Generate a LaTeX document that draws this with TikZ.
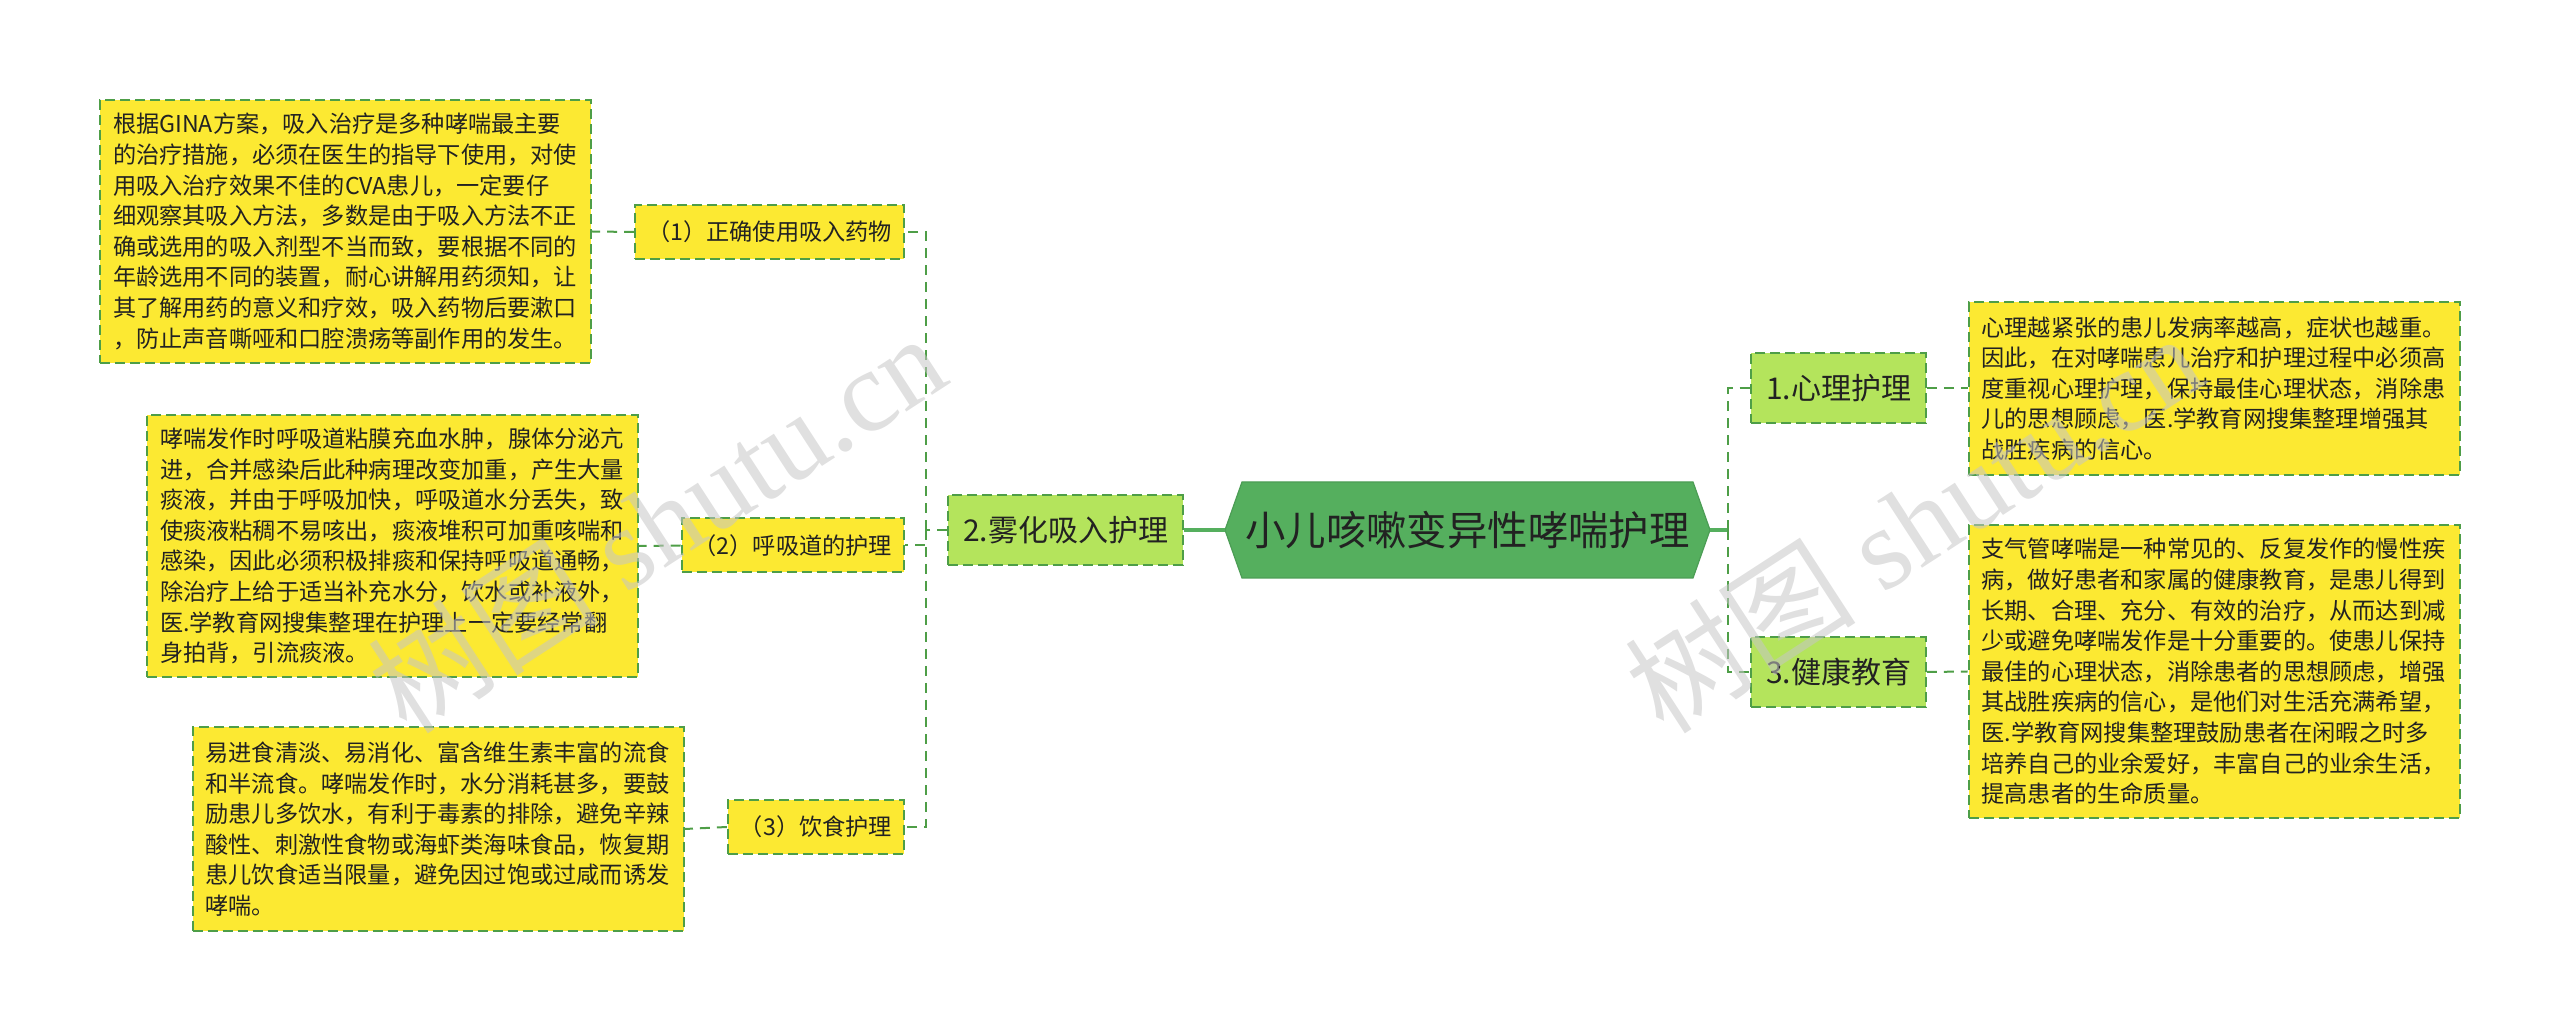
\documentclass[tikz,border=0pt]{standalone}
\usepackage{fontspec}
\newfontfamily\cjk{Noto Sans CJK SC}
\newfontfamily\wmfont{Liberation Serif}
\definecolor{leafyellow}{HTML}{FCE932}
\definecolor{topicgreen}{HTML}{B4E45C}
\definecolor{rootgreen}{HTML}{55AF5E}
\definecolor{edgegreen}{HTML}{4E9E47}
\definecolor{inkdark}{HTML}{222222}
\begin{document}
\begin{tikzpicture}[x=0.5pt,y=-0.5pt,
  every node/.style={font=\cjk,text=inkdark},
  root/.style={minimum width=225pt,minimum height=48pt,inner sep=0pt,
    font=\cjk\fontsize{20.2pt}{24pt}\selectfont},
  topic/.style={fill=topicgreen,draw=edgegreen,line width=1pt,dash pattern=on 5pt off 2.5pt,
    minimum height=35pt,inner xsep=7.4pt,inner ysep=0pt,
    font=\cjk\fontsize{15pt}{18pt}\selectfont},
  tag/.style={fill=leafyellow,draw=edgegreen,line width=1pt,dash pattern=on 5pt off 2.5pt,
    minimum height=27pt,inner xsep=6pt,inner ysep=0pt,
    font=\cjk\fontsize{11.6pt}{14pt}\selectfont},
  leaf/.style={fill=leafyellow,draw=edgegreen,line width=1pt,dash pattern=on 5pt off 2.5pt,
    text width=232.5pt,align=left,inner xsep=6.5pt,inner ysep=0pt,
    font=\cjk\fontsize{11.6pt}{15.3pt}\selectfont},
  link/.style={draw=edgegreen,line width=1pt,dash pattern=on 5pt off 3.5pt},
  trunk/.style={draw=rootgreen,line width=1.6pt},
  wmark/.style={rotate=33,text=gray!45,opacity=0.55,font=\wmfont\fontsize{58pt}{58pt}\selectfont}]
  \useasboundingbox (0,0) rectangle (2560,1031);
  % Centre: hexagon with pointed ends
  \coordinate (rootL) at (1225,530);
  \coordinate (rootR) at (1710,530);
  \filldraw[fill=rootgreen,draw=rootgreen!90!black,line width=0.6pt]
    (rootL) -- (1242,482) -- (1693,482) -- (rootR) -- (1693,578) -- (1242,578) -- cycle;
  \node[root] (root) at (1467.5,530) {小儿咳嗽变异性哮喘护理};
  % First level
  \node[topic] (p2) at (1065.5,530) {2.雾化吸入护理};
  \node[topic] (p1) at (1838.5,388.5) {1.心理护理};
  \node[topic] (p3) at (1838.5,672) {3.健康教育};
  % Left branch
  \node[tag,anchor=east] (c1) at (905,232) {（1）正确使用吸入药物};
  \node[tag,anchor=east] (c2) at (905,545.5) {（2）呼吸道的护理};
  \node[tag,anchor=east] (c3) at (905,827) {（3）饮食护理};
  \node[leaf,minimum height=131.5pt] (d1) at (345.5,231.5) {根据GINA方案，吸入治疗是多种哮喘最主要\\的治疗措施，必须在医生的指导下使用，对使\\用吸入治疗效果不佳的CVA患儿，一定要仔\\细观察其吸入方法，多数是由于吸入方法不正\\确或选用的吸入剂型不当而致，要根据不同的\\年龄选用不同的装置，耐心讲解用药须知，让\\其了解用药的意义和疗效，吸入药物后要漱口\\，防止声音嘶哑和口腔溃疡等副作用的发生。};
  \node[leaf,minimum height=131pt] (d2) at (392.5,546) {哮喘发作时呼吸道粘膜充血水肿，腺体分泌亢\\进，合并感染后此种病理改变加重，产生大量\\痰液，并由于呼吸加快，呼吸道水分丢失，致\\使痰液粘稠不易咳出，痰液堆积可加重咳喘和\\感染，因此必须积极排痰和保持呼吸道通畅，\\除治疗上给于适当补充水分，饮水或补液外，\\医.学教育网搜集整理在护理上一定要经常翻\\身拍背，引流痰液。};
  \node[leaf,minimum height=102pt] (d3) at (438,829) {易进食清淡、易消化、富含维生素丰富的流食\\和半流食。哮喘发作时，水分消耗甚多，要鼓\\励患儿多饮水，有利于毒素的排除，避免辛辣\\酸性、刺激性食物或海虾类海味食品，恢复期\\患儿饮食适当限量，避免因过饱或过咸而诱发\\哮喘。};
  % Right branch
  \node[leaf,minimum height=86.5pt] (d4) at (2214,388.5) {心理越紧张的患儿发病率越高，症状也越重。\\因此，在对哮喘患儿治疗和护理过程中必须高\\度重视心理护理，保持最佳心理状态，消除患\\儿的思想顾虑，医.学教育网搜集整理增强其\\战胜疾病的信心。};
  \node[leaf,minimum height=146.5pt] (d5) at (2214,671.5) {支气管哮喘是一种常见的、反复发作的慢性疾\\病，做好患者和家属的健康教育，是患儿得到\\长期、合理、充分、有效的治疗，从而达到减\\少或避免哮喘发作是十分重要的。使患儿保持\\最佳的心理状态，消除患者的思想顾虑，增强\\其战胜疾病的信心，是他们对生活充满希望，\\医.学教育网搜集整理鼓励患者在闲暇之时多\\培养自己的业余爱好，丰富自己的业余生活，\\提高患者的生命质量。};
  % Connectors
  \coordinate (lj) at (926,530);
  \coordinate (rj) at (1728,530);
  \draw[trunk] (rootL) -- (p2.east);
  \draw[trunk] (rootR) -- (rj);
  \draw[link] (p2.west) -- (lj);
  \draw[link] (lj) |- (c1.east);
  \draw[link] (lj) |- (c2.east);
  \draw[link] (lj) |- (c3.east);
  \draw[link] (c1.west) -- (d1.east);
  \draw[link] (c2.west) -- (d2.east);
  \draw[link] (c3.west) -- (d3.east);
  \draw[link] (rj) |- (p1.west);
  \draw[link] (rj) |- (p3.west);
  \draw[link] (p1.east) -- (d4.west);
  \draw[link] (p3.east) -- (d5.west);
  % Watermarks
  \node[wmark] (wm1) at (656,522) {{\cjk 树图} shutu.cn};
  \node[wmark] (wm2) at (1913,522) {{\cjk 树图} shutu.cn};
\end{tikzpicture}
\end{document}
